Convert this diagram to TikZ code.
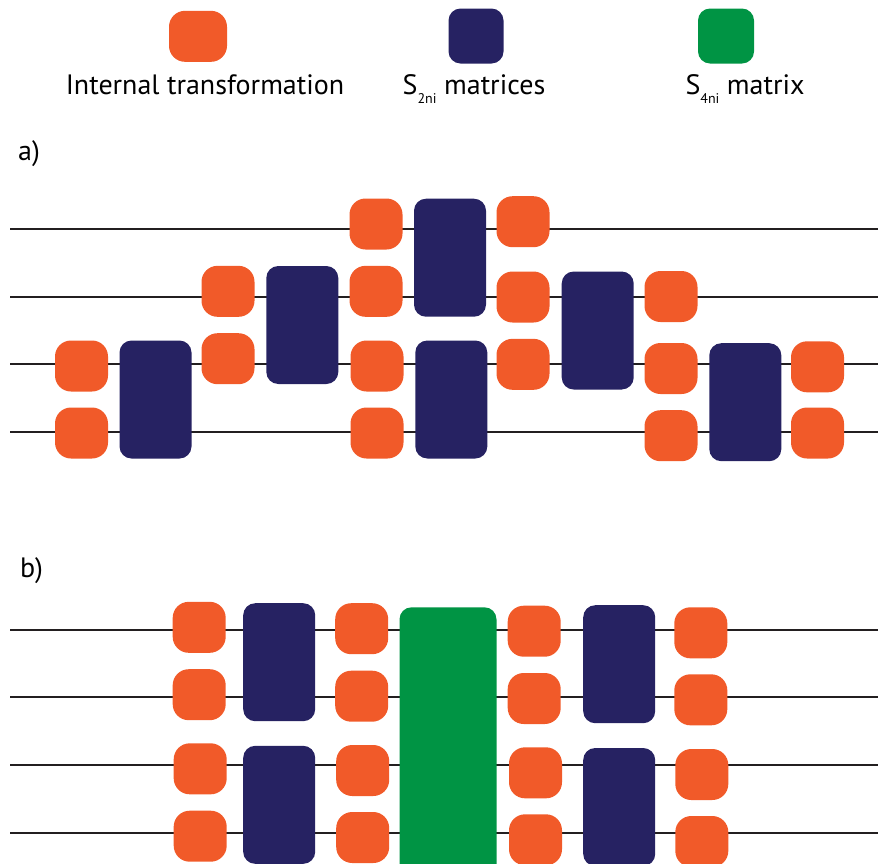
\documentclass[tikz,border=0pt]{standalone}
\usepackage{fontspec}
\setmainfont{PT Sans}
\definecolor{itorange}{HTML}{F15A29}
\definecolor{s2navy}{HTML}{262262}
\definecolor{s4green}{HTML}{009444}
\definecolor{wirecol}{HTML}{231F20}
\newcommand{\lowsub}[1]{\raisebox{-9pt}{\fontsize{14}{14}\selectfont #1}}
\begin{document}
\begin{tikzpicture}[x=1pt,y=-1pt,
  itbox/.style={fill=itorange,draw=none,rounded corners=16pt,minimum width=53pt,minimum height=51pt,inner sep=0pt,outer sep=0pt},
  s2box/.style={fill=s2navy,draw=none,rounded corners=12pt,minimum width=72pt,minimum height=118pt,inner sep=0pt,outer sep=0pt},
  s4box/.style={fill=s4green,draw=none,rounded corners=12pt,minimum width=97pt,minimum height=270pt,inner sep=0pt,outer sep=0pt},
  wire/.style={draw=wirecol,line width=2.3pt},
  legendtext/.style={font=\fontsize{28}{32}\selectfont,anchor=base,inner sep=0pt},
  partlabel/.style={font=\fontsize{28}{32}\selectfont,anchor=base west,inner sep=0pt}]
\useasboundingbox (0,0) rectangle (878,863);
\clip (0,0) rectangle (878,863);

% ---------- legend ----------
\node[itbox,minimum width=58pt] (legIT) at (198,36.3) {};
\node[s2box,minimum width=55pt,minimum height=55pt] (legS2) at (476,36) {};
\node[s4box,minimum width=56pt,minimum height=55pt] (legS4) at (726,36) {};
\node[legendtext] (txtIT) at (205,94.3) {Internal transformation};
\node[legendtext] (txtS2) at (474,94.3) {S\lowsub{2ni} matrices};
\node[legendtext] (txtS4) at (745,94.3) {S\lowsub{4ni} matrix};

% ---------- part a) ----------
\node[partlabel] (lblA) at (18,160) {a)};
\foreach \i/\y in {1/229,2/297,3/364,4/432}{
  \coordinate (aL\i) at (10,\y);
  \coordinate (aR\i) at (878,\y);
  \draw[wire] (aL\i) -- (aR\i);
}
% column 1
\node[itbox] (a13) at (81.5,366) {};
\node[itbox] (a14) at (81.5,433) {};
\node[s2box] (aS1) at (155.5,399.5) {};
% column 2
\node[itbox] (a22) at (228,291.3) {};
\node[itbox] (a23) at (228,358.7) {};
\node[s2box] (aS2) at (302.3,325) {};
% column 3
\node[itbox] (a31) at (376,224) {};
\node[itbox] (a32) at (376,291.3) {};
\node[itbox] (a33) at (377,366) {};
\node[itbox] (a34) at (377,433) {};
\node[s2box] (aS3t) at (450,257.7) {};
\node[s2box] (aS3b) at (451.3,399.5) {};
% column 4
\node[itbox] (a41) at (523,221.7) {};
\node[itbox] (a42) at (523,297) {};
\node[itbox] (a43) at (523,364.3) {};
\node[s2box] (aS4) at (597.7,330.5) {};
% column 5
\node[itbox] (a52) at (671,296.5) {};
\node[itbox] (a53) at (671,368.5) {};
\node[itbox] (a54) at (671,435.7) {};
\node[s2box] (aS5) at (745.3,402.2) {};
% column 6
\node[itbox] (a63) at (817.5,366.8) {};
\node[itbox] (a64) at (817.5,433) {};

% ---------- part b) ----------
\node[partlabel] (lblB) at (20,577) {b)};
\foreach \i/\y in {1/630,2/697.3,3/765.3,4/833.3}{
  \coordinate (bL\i) at (10,\y);
  \coordinate (bR\i) at (878,\y);
  \draw[wire] (bL\i) -- (bR\i);
}
% column 1
\node[itbox] (b11) at (199.2,627.3) {};
\node[itbox] (b12) at (199.2,694.7) {};
\node[itbox] (b13) at (200.2,768.8) {};
\node[itbox] (b14) at (200.2,836.2) {};
\node[s2box] (bS1t) at (279.2,662.2) {};
\node[s2box] (bS1b) at (279.2,804.8) {};
% column 2
\node[itbox] (b21) at (361.7,628.7) {};
\node[itbox] (b22) at (361.7,696.2) {};
\node[itbox] (b23) at (362.7,770.5) {};
\node[itbox] (b24) at (362.7,837.5) {};
% four-port block
\node[s4box] (bS4) at (448,742.3) {};
% column 3
\node[itbox] (b31) at (534.2,631.2) {};
\node[itbox] (b32) at (534.2,698.5) {};
\node[itbox] (b33) at (535.5,772.8) {};
\node[itbox] (b34) at (535.5,839.8) {};
\node[s2box] (bS2t) at (619.2,664.2) {};
\node[s2box] (bS2b) at (619.2,807) {};
% column 4
\node[itbox] (b41) at (700.8,632.8) {};
\node[itbox] (b42) at (700.8,699.8) {};
\node[itbox] (b43) at (701.8,774.5) {};
\node[itbox] (b44) at (701.8,841.5) {};
\end{tikzpicture}
\end{document}
